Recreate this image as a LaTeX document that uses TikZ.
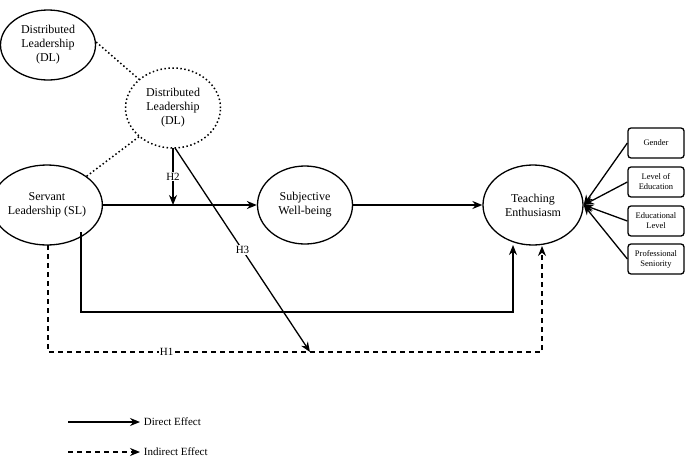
\documentclass[tikz,border=0pt]{standalone}
\usepackage{fontspec}
\setmainfont{Liberation Serif}
\usetikzlibrary{arrows.meta,positioning,shapes.geometric}
\tikzset{
  construct/.style={draw,line width=1.3pt,ellipse,minimum width=95pt,minimum height=78pt,align=center,font=\rmfamily\fontsize{12}{14}\selectfont,inner sep=0pt},
  control/.style={draw,line width=1.3pt,rounded corners=3pt,minimum width=56pt,minimum height=30pt,align=center,font=\rmfamily\fontsize{8.5}{10}\selectfont,inner sep=1pt},
  effect/.style={line width=1.3pt,-{Stealth[length=10pt,width=8pt]}},
  indirect/.style={effect,dash pattern=on 5pt off 4pt},
  link/.style={line width=1.5pt,dash pattern=on 1.5pt off 2.5pt},
  hyp/.style={fill=white,inner sep=1pt,font=\rmfamily\fontsize{11}{13}\selectfont}
}
\begin{document}
\begin{tikzpicture}[x=1pt,y=-1pt]
  \useasboundingbox (0,0) rectangle (685,461);
  % constructs
  \node[construct,minimum height=70pt] (dlA) at (48,45) {Distributed\\Leadership\\(DL)};
  \node[construct,draw=none,minimum height=80pt] (dlB) at (173,108) {Distributed\\Leadership\\(DL)};
  \draw[link] (dlB.center) ellipse (47.5pt and 40pt);
  \node[construct,minimum height=80pt] (sl) at (47,205) {Servant\\Leadership (SL)};
  \node[construct] (swb) at (305,205) {Subjective\\Well-being};
  \node[construct,minimum width=100pt,minimum height=80pt] (te) at (533,205) {Teaching\\Enthusiasm};
  % controls
  \node[control] (gen) at (656,143) {Gender};
  \node[control] (loe) at (656,182) {Level of\\Education};
  \node[control] (edl) at (656,221) {Educational\\Level};
  \node[control] (ps) at (656,259) {Professional\\Seniority};
  \foreach \c in {gen,loe,edl,ps}
    \draw[effect] (\c.west) -- (te.east);
  % helper points
  \coordinate (dlBot) at (173,148);
  \coordinate (mod) at (173,205);
  \coordinate (h3end) at (310,352);
  \coordinate (teL) at (513,245);
  \coordinate (teR) at (542,246);
  % paths
  \draw[link] (dlA.east) ++(0,-3) -- (dlB.north west);
  \draw[link] (dlB.south west) -- (sl.north east);
  \draw[effect] (sl.east) -- (swb.west);
  \draw[effect] (swb.east) -- (te.west);
  \draw[effect] (dlBot) -- node[hyp] {H2} (mod);
  \draw[effect] (175,148) -- node[pos=0.5,hyp] {H3} (h3end);
  \draw[effect] (81,232) |- (513,312) -- (teL);
  \draw[indirect] (48,245) |- node[pos=0.62,hyp] {H1} (542,352) -- (teR);
  % legend
  \coordinate (l1a) at (68,422); \coordinate (l1b) at (140,422);
  \coordinate (l2a) at (68,452); \coordinate (l2b) at (140,452);
  \draw[effect] (l1a) -- (l1b) node[right,font=\rmfamily\fontsize{11}{13}\selectfont] {Direct Effect};
  \draw[indirect] (l2a) -- (l2b) node[right,font=\rmfamily\fontsize{11}{13}\selectfont] {Indirect Effect};
\end{tikzpicture}
\end{document}
